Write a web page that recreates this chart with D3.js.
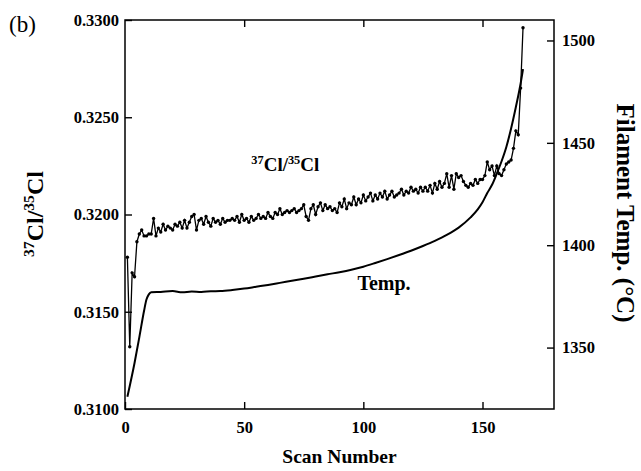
<!DOCTYPE html>
<html>
<head>
<meta charset="utf-8">
<script src="https://cdn.jsdelivr.net/npm/d3@7"></script>
<style>
  html, body { margin: 0; padding: 0; background: #fff; }
  svg { display: block; }
  text { font-family: "Liberation Serif", "Times New Roman", serif; fill: #000; }
</style>
</head>
<body>
<svg id="chart" width="641" height="471"></svg>
<script>
// ---------- data ----------
const ratioValues = [
  0.3178, 0.3132, 0.3170, 0.3168, 0.3186, 0.3190, 0.3192, 0.3189, 0.3189, 0.3190,
  0.3190, 0.3198, 0.3189, 0.3193, 0.3191, 0.3195, 0.3192, 0.3194, 0.3193, 0.3192,
  0.3195, 0.3194, 0.3196, 0.3193, 0.3197, 0.3193, 0.3196, 0.3199, 0.3200, 0.3192,
  0.3197, 0.3198, 0.3195, 0.3199, 0.3196, 0.3194, 0.3198, 0.3196, 0.3197, 0.3195,
  0.3198, 0.3196, 0.3197, 0.3197, 0.3198, 0.3197, 0.3199, 0.3196, 0.3200, 0.3197,
  0.3198, 0.3196, 0.3199, 0.3197, 0.3198, 0.3200, 0.3198, 0.3199, 0.3198, 0.3201,
  0.3199, 0.3198, 0.3201, 0.3200, 0.3203, 0.3200, 0.3201, 0.3202, 0.3201, 0.3202,
  0.3203, 0.3201, 0.3202, 0.3203, 0.3205, 0.3199, 0.3197, 0.3203, 0.3205, 0.3200,
  0.3204, 0.3206, 0.3202, 0.3205, 0.3203, 0.3204, 0.3202, 0.3203, 0.3201, 0.3206,
  0.3204, 0.3208, 0.3203, 0.3206, 0.3205, 0.3209, 0.3205, 0.3208, 0.3206, 0.3210,
  0.3207, 0.3209, 0.3211, 0.3207, 0.3210, 0.3208, 0.3211, 0.3209, 0.3212, 0.3208,
  0.3210, 0.3212, 0.3209, 0.3210, 0.3211, 0.3213, 0.3210, 0.3212, 0.3211, 0.3214,
  0.3212, 0.3213, 0.3211, 0.3214, 0.3212, 0.3214, 0.3212, 0.3215, 0.3211, 0.3216,
  0.3213, 0.3217, 0.3214, 0.3216, 0.3221, 0.3214, 0.3220, 0.3213, 0.3221, 0.3219,
  0.3220, 0.3217, 0.3215, 0.3214, 0.3216, 0.3215, 0.3218, 0.3216, 0.3218, 0.3218,
  0.3220, 0.3227, 0.3223, 0.3225, 0.3220, 0.3225, 0.3221, 0.3220, 0.3223, 0.3226,
  0.3227, 0.3228, 0.3234, 0.3243, 0.3241, 0.3265, 0.3296
];
const ratioScans = ratioValues.map((v, i) => i + 1);

const tempScans = [1, 4, 6, 8, 9, 10, 11, 15, 20, 24, 28, 32, 36, 40, 45, 50, 55, 60, 65, 70,
  75, 80, 85, 90, 95, 100, 105, 110, 115, 120, 125, 130, 135, 140, 145, 148, 150, 152, 154, 156,
  158, 160, 162, 164, 166, 167];
const tempValues = [1326, 1342.5, 1355, 1368, 1373.5, 1376, 1377, 1377.2, 1377.6, 1377, 1377.4,
  1377.2, 1377.5, 1377.6, 1378.1, 1378.8, 1379.7, 1380.6, 1381.6, 1382.6, 1383.6, 1384.7, 1385.8, 1386.8,
  1388, 1389.5, 1391.3, 1393.2, 1395.2, 1397.3, 1399.6, 1402.1, 1405, 1408.6, 1413.6, 1417.5, 1421,
  1425.5, 1429.5, 1435, 1441, 1448, 1457, 1467.5, 1479, 1486];

const scanTicks = [0, 50, 100, 150];
const ratioTicks = [0.3100, 0.3150, 0.3200, 0.3250, 0.3300];
const tempTicks = [1350, 1400, 1450, 1500];

// ---------- layout ----------
const svg = d3.select("#chart");
const L = 125, R = 554, T = 20, B = 409;

const x = d3.scaleLinear().domain([0, 180]).range([L, R]);
const yR = d3.scaleLinear().domain([0.3100, 0.3300]).range([B, T]);
const yT = d3.scaleLinear().domain([1320, 1510]).range([B, T]);

const tickFont = 16.5;

// bottom axis
const gb = svg.append("g").attr("transform", `translate(0,${B})`)
  .call(d3.axisBottom(x).tickValues(scanTicks).tickSizeInner(-7).tickSizeOuter(0).tickPadding(12)
    .tickFormat(d3.format("d")));
// top axis
const gt = svg.append("g").attr("transform", `translate(0,${T})`)
  .call(d3.axisTop(x).tickValues(scanTicks.filter(d => d > 0)).tickSizeInner(-7).tickSizeOuter(0).tickFormat(""));
// left axis
const gl = svg.append("g").attr("transform", `translate(${L},0)`)
  .call(d3.axisLeft(yR).tickValues(ratioTicks).tickSizeInner(-7).tickSizeOuter(0).tickPadding(6)
    .tickFormat(d3.format(".4f")));
// right axis
const gr = svg.append("g").attr("transform", `translate(${R},0)`)
  .call(d3.axisRight(yT).tickValues(tempTicks).tickSizeInner(-7).tickSizeOuter(0).tickPadding(8)
    .tickFormat(d3.format("d")));

[gb, gt, gl, gr].forEach(g => {
  g.select(".domain").remove();
  g.selectAll(".tick line").attr("stroke", "#000").attr("stroke-width", 1.4);
  g.selectAll(".tick text").attr("font-family", "Liberation Serif, serif")
    .attr("font-size", tickFont).attr("font-weight", "bold").attr("fill", "#000");
});

// frame
svg.append("rect").attr("x", L).attr("y", T).attr("width", R - L).attr("height", B - T)
  .attr("fill", "none").attr("stroke", "#000").attr("stroke-width", 1.5);

// temperature line
const tempData = tempScans.map((s, i) => [s, tempValues[i]]);
svg.append("path").datum(tempData)
  .attr("fill", "none").attr("stroke", "#000").attr("stroke-width", 2)
  .attr("stroke-linejoin", "round")
  .attr("d", d3.line().x(d => x(d[0])).y(d => yT(d[1])).curve(d3.curveMonotoneX));

// ratio line with markers
const ratioData = ratioScans.map((s, i) => [s, ratioValues[i]]);
svg.append("path").datum(ratioData)
  .attr("fill", "none").attr("stroke", "#000").attr("stroke-width", 1.3)
  .attr("d", d3.line().x(d => x(d[0])).y(d => yR(d[1])));
svg.append("g").selectAll("circle").data(ratioData).join("circle")
  .attr("cx", d => x(d[0])).attr("cy", d => yR(d[1])).attr("r", 1.7).attr("fill", "#000");

// ---------- text ----------
function ratioLabel(sel, size) {
  const sup = size * 0.65;
  sel.append("tspan").attr("font-size", sup).attr("dy", -size * 0.38).text("37");
  sel.append("tspan").attr("font-size", size).attr("dy", size * 0.38).text("Cl/");
  sel.append("tspan").attr("font-size", sup).attr("dy", -size * 0.38).text("35");
  sel.append("tspan").attr("font-size", size).attr("dy", size * 0.38).text("Cl");
}

// panel label
svg.append("text").attr("x", 9).attr("y", 32).attr("font-size", 23).text("(b)");

// left title
const lt = svg.append("text").attr("transform", "translate(43,214) rotate(-90)")
  .attr("text-anchor", "middle").attr("font-weight", "bold");
ratioLabel(lt, 24);

// right title
svg.append("text").attr("transform", "translate(617,213) rotate(90)")
  .attr("text-anchor", "middle").attr("font-weight", "bold").attr("font-size", 25)
  .text("Filament Temp. (°C)");

// x title
svg.append("text").attr("x", (L + R) / 2).attr("y", 463).attr("text-anchor", "middle")
  .attr("font-weight", "bold").attr("font-size", 19.5).text("Scan Number");

// in-plot annotations
const ann = svg.append("text").attr("x", x(53)).attr("y", 171).attr("font-weight", "bold");
ratioLabel(ann, 19);
svg.append("text").attr("x", x(97.5)).attr("y", 290).attr("font-weight", "bold")
  .attr("font-size", 20).text("Temp.");
</script>
</body>
</html>
